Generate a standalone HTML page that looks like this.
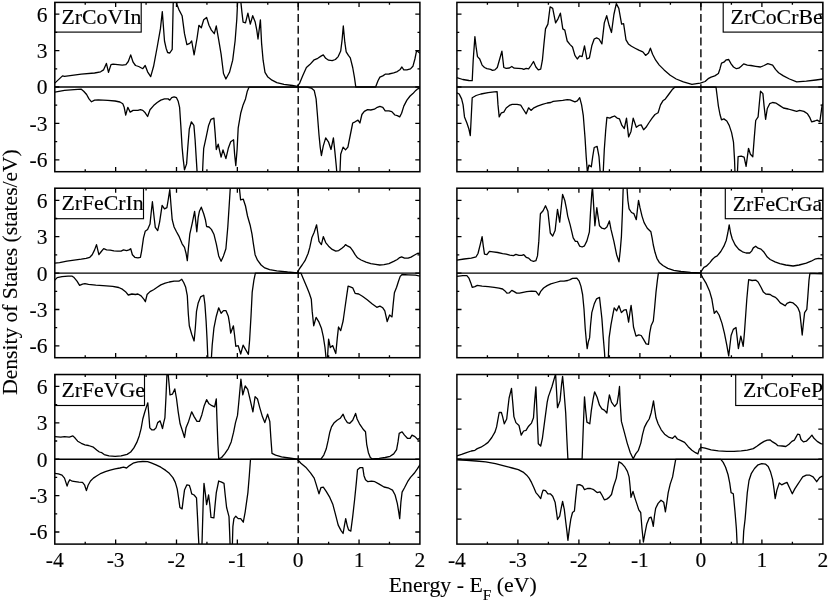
<!DOCTYPE html><html><head><meta charset="utf-8"><title>DOS</title><style>html,body{margin:0;padding:0;background:#fff}svg{display:block;will-change:transform}text{font-family:"Liberation Serif",serif;fill:#000;stroke:#000;stroke-width:0.12px}</style></head><body>
<svg width="830" height="602" viewBox="0 0 830 602">
<rect width="830" height="602" fill="#fff"/>
<clipPath id="c00"><rect x="54.8" y="2.4" width="365.09999999999997" height="169.3"/></clipPath>
<g clip-path="url(#c00)"><polyline fill="none" stroke="#000" stroke-width="1.3" stroke-linejoin="round" points="54.8,83.1 62.5,75.9 64.5,76.4 81.3,74.2 94.6,73.0 100.6,71.8 103.5,69.9 106.4,63.4 108.5,72.3 111.0,64.6 113.1,64.1 122.3,65.1 125.9,64.6 128.3,61.5 130.7,54.9 133.1,62.2 135.5,65.5 138.7,66.5 142.8,68.7 145.2,65.5 147.6,71.8 150.7,76.6 153.6,66.3 157.2,47.0 160.4,28.9 162.3,11.6 164.5,41.0 166.1,48.2 167.6,52.5 169.8,53.0 172.2,49.4 173.4,-4.8 175.8,-4.8 177.0,4.8 178.9,9.6 182.1,15.7 184.5,33.7 186.9,44.6 189.8,43.4 191.7,41.0 194.1,54.9 197.0,38.5 198.9,25.3 201.3,27.7 203.7,19.8 206.6,17.4 209.0,25.3 211.4,30.1 214.3,33.7 216.3,26.0 218.7,39.8 221.1,54.2 223.5,73.5 225.9,79.0 229.5,72.3 232.7,60.2 235.1,41.0 236.8,19.3 237.9,-4.8 239.9,-4.8 240.9,2.4 241.9,12.1 243.1,22.2 245.5,22.9 247.9,13.2 250.3,24.1 252.7,15.7 255.1,21.7 256.8,30.1 258.0,39.0 260.4,19.8 261.6,43.4 263.1,60.2 265.0,72.3 267.9,77.1 272.0,80.2 276.8,82.7 284.0,84.3 292.5,85.5 297.3,86.3 299.7,83.1 302.6,75.9 306.4,67.5 309.8,64.6 314.2,59.8 317.8,58.3 321.4,55.9 323.3,54.9 325.7,58.3 328.6,60.2 332.2,60.7 335.4,59.5 338.2,56.6 340.7,51.1 342.1,39.8 343.3,26.0 344.8,42.2 346.2,51.8 348.4,55.4 350.3,57.8 352.7,67.5 354.4,77.1 355.8,87.0 375.6,87.0 378.0,80.7 379.9,77.1 382.8,75.9 385.2,74.2 388.9,74.0 393.7,72.8 397.3,71.6 400.2,69.4 401.9,67.0 403.8,69.9 406.9,69.9 410.5,68.9 412.9,66.3 414.9,59.0 416.6,50.6 419.0,52.5 421.4,54.2"/><polyline fill="none" stroke="#000" stroke-width="1.3" stroke-linejoin="round" points="54.8,92.1 64.5,90.4 74.1,89.7 81.3,89.2 83.7,91.2 86.6,94.5 89.0,98.9 91.5,101.8 94.6,100.1 98.2,99.8 107.8,100.3 115.1,101.0 119.9,102.0 122.8,103.7 124.2,107.3 125.7,115.2 127.8,107.3 130.2,112.1 133.1,110.4 137.9,110.4 140.4,109.7 142.8,110.4 145.2,112.8 147.6,116.5 150.0,109.7 153.6,105.6 157.2,102.5 160.8,100.1 164.5,98.9 168.1,98.9 169.8,100.1 171.7,97.7 174.1,96.9 176.5,97.7 178.2,101.3 179.6,107.3 180.8,125.4 182.1,147.1 183.2,159.1 184.5,169.9 186.6,163.9 187.8,147.1 189.3,129.0 191.4,121.8 193.9,125.4 195.1,139.8 196.3,159.1 197.5,178.4 202.3,178.4 203.0,161.5 203.7,148.3 206.1,137.4 208.6,125.4 211.0,119.3 213.9,118.1 215.1,132.6 216.3,149.5 218.2,144.2 219.6,150.7 221.1,157.2 223.0,149.9 225.9,158.6 228.3,148.3 230.7,141.8 233.6,139.8 234.6,154.3 235.8,165.6 237.1,149.5 238.2,127.8 240.7,113.3 243.1,104.9 245.5,98.9 247.2,91.6 249.1,87.1 306.9,87.1 311.3,88.0 314.2,90.4 316.1,98.9 317.3,113.3 319.0,135.0 320.2,147.1 321.4,155.5 323.3,145.9 325.7,137.9 328.6,142.2 331.0,149.5 333.4,137.9 334.9,151.9 336.3,166.3 337.3,178.4 339.7,178.4 340.7,154.3 343.1,147.1 345.5,149.9 347.9,147.1 350.3,135.0 352.7,123.0 355.1,121.8 358.0,120.1 359.9,123.0 361.9,114.5 364.3,111.4 367.6,109.7 370.8,110.0 374.4,109.2 377.3,107.3 379.9,106.3 382.8,107.3 385.2,110.9 388.9,110.9 391.8,111.6 394.9,115.0 397.3,115.7 399.7,116.9 401.6,113.3 403.8,106.1 406.9,100.1 410.1,96.0 412.9,93.6 415.8,90.4 417.8,88.8 421.4,87.8"/><line x1="54.8" y1="87.00" x2="419.9" y2="87.00" stroke="#000" stroke-width="1.45"/><line x1="298.20" y1="2.4" x2="298.20" y2="171.70000000000002" stroke="#000" stroke-width="1.4" stroke-dasharray="8,3.69" stroke-dashoffset="0"/><rect x="54.8" y="2.4" width="86.4" height="29.7" fill="#fff" stroke="#000" stroke-width="1.15"/><text x="61.4" y="24.3" font-size="21.8">ZrCoVIn</text></g>
<path d="M85.22,171.70000000000002v-2.4M85.22,2.4v2.4M115.65,171.70000000000002v-4.6M115.65,2.4v4.6M146.07,171.70000000000002v-2.4M146.07,2.4v2.4M176.50,171.70000000000002v-4.6M176.50,2.4v4.6M206.93,171.70000000000002v-2.4M206.93,2.4v2.4M237.35,171.70000000000002v-4.6M237.35,2.4v4.6M267.77,171.70000000000002v-2.4M267.77,2.4v2.4M298.20,171.70000000000002v-4.6M298.20,2.4v4.6M328.62,171.70000000000002v-2.4M328.62,2.4v2.4M359.05,171.70000000000002v-4.6M359.05,2.4v4.6M389.47,171.70000000000002v-2.4M389.47,2.4v2.4M54.8,159.78h4.6M419.9,159.78h-4.6M54.8,141.59h2.4M419.9,141.59h-2.4M54.8,123.39h4.6M419.9,123.39h-4.6M54.8,105.19h2.4M419.9,105.19h-2.4M54.8,87.00h4.6M419.9,87.00h-4.6M54.8,68.81h2.4M419.9,68.81h-2.4M54.8,50.61h4.6M419.9,50.61h-4.6M54.8,32.41h2.4M419.9,32.41h-2.4M54.8,14.22h4.6M419.9,14.22h-4.6" stroke="#000" stroke-width="1.3" fill="none"/>
<rect x="54.8" y="2.4" width="365.1" height="169.3" fill="none" stroke="#000" stroke-width="1.5"/>
<text x="47.5" y="21.6" font-size="21.5" text-anchor="end">6</text>
<text x="47.5" y="58.0" font-size="21.5" text-anchor="end">3</text>
<text x="47.5" y="94.4" font-size="21.5" text-anchor="end">0</text>
<text x="47.5" y="130.8" font-size="21.5" text-anchor="end">-3</text>
<text x="47.5" y="167.2" font-size="21.5" text-anchor="end">-6</text>
<clipPath id="c01"><rect x="456.9" y="2.4" width="366.0" height="169.3"/></clipPath>
<g clip-path="url(#c01)"><polyline fill="none" stroke="#000" stroke-width="1.3" stroke-linejoin="round" points="456.8,77.6 462.8,79.5 468.9,80.5 472.2,80.7 473.2,60.2 474.9,36.6 476.1,47.0 477.5,56.6 479.7,59.0 482.1,65.1 484.5,67.5 486.9,68.7 490.6,69.4 492.5,70.4 494.9,69.9 497.3,67.5 499.7,59.0 501.9,51.1 503.8,67.5 506.2,68.4 509.4,68.0 511.8,66.5 514.2,68.2 518.3,68.4 521.9,68.7 523.8,69.4 526.2,68.4 528.6,68.9 531.0,65.5 533.5,61.5 535.9,67.0 538.3,69.9 540.7,69.2 542.4,60.2 544.0,43.4 545.5,28.9 547.9,24.1 550.1,6.8 552.7,8.4 555.6,22.9 558.0,18.8 560.4,13.2 562.8,28.9 564.8,30.1 567.2,41.0 570.1,44.6 572.5,47.0 574.9,55.4 577.3,59.0 579.7,55.9 582.1,56.6 584.5,45.8 586.9,59.0 589.4,57.8 591.8,45.8 594.2,39.0 596.6,37.8 599.0,39.0 601.9,43.9 604.3,22.9 606.7,15.7 609.1,25.3 611.5,32.5 613.9,14.5 616.3,3.6 618.8,8.4 621.6,24.1 623.6,23.6 626.0,39.8 628.4,43.9 631.5,46.3 635.1,48.2 638.8,50.1 642.8,51.8 642.9,51.8 645.6,55.4 648.5,53.0 650.4,48.2 652.6,54.2 655.7,60.2 659.3,65.1 664.1,69.9 670.2,75.2 676.2,79.0 683.4,81.9 691.9,84.3 696.7,83.6 700.3,83.1 705.1,81.5 708.7,78.3 711.1,77.1 714.8,75.9 718.4,73.5 720.0,68.7 721.5,63.1 723.9,62.2 726.3,59.8 728.7,59.5 731.1,63.9 733.5,67.0 736.4,68.7 738.8,68.2 741.2,66.3 743.7,63.9 747.3,65.1 750.9,65.5 755.7,66.3 760.5,67.0 764.1,65.5 767.8,63.6 770.2,64.3 772.6,65.1 775.5,69.4 778.6,72.8 783.4,75.9 789.5,79.0 796.7,81.9 806.3,81.2 816.0,80.0 823.2,79.0"/><polyline fill="none" stroke="#000" stroke-width="1.3" stroke-linejoin="round" points="456.8,92.8 459.2,94.0 461.6,98.9 463.1,104.9 464.5,116.9 466.9,123.0 468.9,129.0 470.3,135.5 471.3,115.7 472.2,97.7 476.1,95.5 480.9,94.0 488.1,92.6 494.2,91.9 497.1,91.6 498.0,104.9 499.2,116.9 501.4,112.8 503.8,112.1 506.2,108.0 509.4,105.4 512.2,104.4 517.1,104.4 520.7,105.1 523.1,109.0 526.2,113.8 528.6,107.8 531.0,110.4 533.9,107.8 537.5,106.1 542.4,104.4 547.2,103.0 550.8,102.5 553.2,101.3 558.0,100.8 562.8,100.3 567.2,99.6 570.1,99.8 572.5,100.8 574.9,101.8 577.3,100.8 579.7,97.7 581.6,104.9 583.3,115.7 585.0,137.4 586.2,156.7 587.4,172.4 588.9,165.1 591.3,166.8 592.7,156.7 594.2,147.5 597.1,146.3 599.0,156.7 600.4,174.8 603.1,174.8 604.3,149.5 605.7,130.2 606.9,117.4 609.8,118.1 612.2,116.9 614.6,116.0 617.1,118.1 619.5,118.9 621.9,125.4 624.3,128.5 626.5,118.1 628.6,136.9 631.0,131.4 633.2,118.1 636.3,127.3 638.8,125.4 641.2,124.9 643.6,129.7 646.0,127.3 649.1,122.5 652.1,118.1 655.0,114.5 658.1,112.8 660.5,104.9 662.9,100.8 665.4,98.9 669.0,94.0 672.6,89.2 675.0,87.1 716.0,87.1 717.2,96.5 718.4,106.1 720.0,114.5 721.5,119.8 723.9,118.9 726.8,121.0 729.2,125.4 731.6,132.6 733.5,142.2 734.5,159.1 735.2,178.4 737.2,178.4 738.1,156.7 741.2,156.2 744.1,157.2 746.1,166.3 748.5,148.3 750.4,154.3 752.8,156.7 754.3,137.4 755.7,120.5 758.1,116.9 759.3,103.7 760.5,91.2 762.9,93.6 764.1,106.1 765.6,119.3 767.3,108.5 769.7,103.7 772.6,102.5 776.2,103.2 779.8,105.6 783.4,108.0 788.2,109.0 793.1,110.4 796.7,111.4 799.6,110.4 803.9,111.4 807.5,113.8 809.9,117.7 811.6,121.8 814.8,121.0 817.2,120.1 819.8,121.8 821.0,113.3 822.2,104.9 823.7,103.2"/><line x1="456.9" y1="87.00" x2="822.9" y2="87.00" stroke="#000" stroke-width="1.45"/><line x1="700.90" y1="2.4" x2="700.90" y2="171.70000000000002" stroke="#000" stroke-width="1.4" stroke-dasharray="8,3.69" stroke-dashoffset="0"/><rect x="723.2" y="2.4" width="99.7" height="29.7" fill="#fff" stroke="#000" stroke-width="1.15"/><text x="730.6" y="24.3" font-size="21.8">ZrCoCrBe</text></g>
<path d="M487.40,171.70000000000002v-2.4M487.40,2.4v2.4M517.90,171.70000000000002v-4.6M517.90,2.4v4.6M548.40,171.70000000000002v-2.4M548.40,2.4v2.4M578.90,171.70000000000002v-4.6M578.90,2.4v4.6M609.40,171.70000000000002v-2.4M609.40,2.4v2.4M639.90,171.70000000000002v-4.6M639.90,2.4v4.6M670.40,171.70000000000002v-2.4M670.40,2.4v2.4M700.90,171.70000000000002v-4.6M700.90,2.4v4.6M731.40,171.70000000000002v-2.4M731.40,2.4v2.4M761.90,171.70000000000002v-4.6M761.90,2.4v4.6M792.40,171.70000000000002v-2.4M792.40,2.4v2.4M456.9,159.78h4.6M822.9,159.78h-4.6M456.9,141.59h2.4M822.9,141.59h-2.4M456.9,123.39h4.6M822.9,123.39h-4.6M456.9,105.19h2.4M822.9,105.19h-2.4M456.9,87.00h4.6M822.9,87.00h-4.6M456.9,68.81h2.4M822.9,68.81h-2.4M456.9,50.61h4.6M822.9,50.61h-4.6M456.9,32.41h2.4M822.9,32.41h-2.4M456.9,14.22h4.6M822.9,14.22h-4.6" stroke="#000" stroke-width="1.3" fill="none"/>
<rect x="456.9" y="2.4" width="366.0" height="169.3" fill="none" stroke="#000" stroke-width="1.5"/>
<clipPath id="c10"><rect x="54.8" y="188.2" width="365.09999999999997" height="169.5"/></clipPath>
<g clip-path="url(#c10)"><polyline fill="none" stroke="#000" stroke-width="1.3" stroke-linejoin="round" points="54.8,263.1 59.6,262.6 66.9,261.2 74.1,260.2 81.3,259.2 86.1,258.3 89.8,257.3 92.2,254.7 94.6,249.9 96.5,244.6 98.9,254.7 101.3,251.5 103.7,248.7 106.6,249.9 110.2,250.1 113.9,250.8 117.5,251.1 121.1,251.1 123.5,249.9 126.6,250.6 129.0,249.9 130.7,248.7 132.4,254.7 134.8,257.3 137.9,257.8 140.4,257.3 141.6,251.1 143.5,237.8 145.2,231.3 147.6,229.4 150.0,224.1 151.2,212.5 152.4,201.7 154.1,217.3 155.3,227.4 157.7,230.6 159.6,222.1 162.1,205.3 164.5,208.9 166.9,207.7 168.1,200.5 169.8,189.6 171.0,205.3 172.2,219.7 174.1,227.0 176.5,231.8 178.9,236.1 182.1,243.8 184.5,247.4 186.1,253.5 187.3,260.7 188.6,246.2 189.8,234.2 192.2,223.3 194.6,211.3 195.8,222.1 196.8,231.8 198.2,217.3 199.4,211.3 201.3,207.2 203.7,213.7 205.4,219.7 206.6,226.5 209.0,227.0 211.4,229.4 213.9,234.2 216.3,243.8 218.7,255.9 221.1,261.2 223.5,255.9 225.9,248.7 227.8,227.0 229.5,200.5 230.7,181.2 239.2,184.0 239.5,189.0 240.6,199.9 243.3,199.2 245.5,206.0 247.5,216.0 250.3,225.8 252.0,234.2 253.4,243.8 255.1,254.7 257.5,260.2 261.1,265.0 264.8,267.9 269.6,269.6 276.8,270.8 287.6,272.0 297.3,272.8 299.2,269.1 302.1,265.0 305.0,260.7 308.1,253.5 309.8,247.4 311.8,237.8 314.2,232.3 316.6,224.8 317.8,233.0 319.0,241.4 321.4,244.6 323.3,236.6 325.7,242.6 328.6,246.2 332.2,249.4 335.8,251.1 338.7,250.6 341.9,248.2 344.3,246.2 345.5,244.6 347.9,246.2 350.3,247.4 352.7,250.6 355.1,254.7 357.5,257.8 361.1,260.0 366.0,262.1 370.8,263.6 375.6,264.3 379.7,265.0 384.0,264.6 388.9,263.6 393.7,261.4 397.3,259.5 399.7,257.6 401.6,256.8 404.5,258.1 408.1,258.1 411.0,257.1 414.2,255.2 417.3,253.5 421.4,252.8"/><polyline fill="none" stroke="#000" stroke-width="1.3" stroke-linejoin="round" points="54.8,280.1 57.2,277.6 62.0,276.7 68.1,276.2 72.2,276.2 74.1,277.6 77.0,281.2 79.6,285.4 82.5,284.1 84.9,283.7 88.5,284.4 95.8,285.1 103.0,285.6 112.7,286.3 118.7,287.5 122.3,289.2 125.9,292.1 128.3,295.0 131.9,294.0 135.5,294.5 137.9,294.0 141.1,295.9 144.0,299.3 145.4,301.7 147.1,294.5 150.0,291.6 153.6,289.7 157.2,287.3 160.8,284.9 165.2,283.2 169.3,282.0 174.1,281.2 178.9,281.2 181.8,279.3 183.7,282.5 185.7,287.3 187.3,295.7 188.3,313.8 189.3,325.8 191.7,334.3 194.1,341.0 195.3,328.2 196.5,311.4 198.2,302.9 200.6,296.9 203.7,295.2 204.9,304.1 206.1,321.0 207.1,340.3 208.1,364.4 211.0,364.4 212.2,345.1 213.9,328.2 216.3,316.2 218.7,307.8 221.1,313.3 223.5,310.6 225.9,310.6 228.3,316.2 229.5,323.4 230.7,333.1 233.4,325.8 234.6,335.5 235.8,346.3 238.2,345.6 240.7,354.0 243.1,345.1 245.5,349.4 248.4,354.3 249.6,340.3 251.0,316.2 252.2,292.1 253.9,280.1 255.4,273.1 300.9,273.1 303.3,278.8 306.9,287.3 309.3,293.3 311.3,299.3 312.2,311.4 313.7,325.8 316.1,317.4 319.0,322.2 321.4,328.2 323.3,336.7 325.0,347.5 326.2,359.6 327.4,359.6 328.6,339.1 330.3,347.5 332.7,345.6 333.9,348.7 335.8,353.5 337.3,337.9 338.5,327.0 340.7,330.6 343.1,321.0 344.8,309.0 346.7,295.7 348.1,286.1 350.3,286.8 352.7,287.8 355.1,293.3 358.7,294.0 362.4,296.2 367.2,299.8 372.0,303.7 376.8,307.3 379.9,306.1 382.8,307.8 384.8,310.9 386.0,316.2 387.2,321.5 389.6,315.0 392.0,316.9 393.2,304.1 394.4,292.8 396.6,287.3 398.5,281.2 400.2,276.4 402.1,274.5 408.1,274.8 415.4,275.2 421.4,276.4"/><line x1="54.8" y1="273.10" x2="419.9" y2="273.10" stroke="#000" stroke-width="1.45"/><line x1="298.20" y1="188.2" x2="298.20" y2="357.7" stroke="#000" stroke-width="1.4" stroke-dasharray="8,3.69" stroke-dashoffset="0"/><rect x="54.8" y="188.2" width="88.7" height="30.5" fill="#fff" stroke="#000" stroke-width="1.15"/><text x="61.4" y="210.4" font-size="21.8">ZrFeCrIn</text></g>
<path d="M85.22,357.7v-2.4M85.22,188.2v2.4M115.65,357.7v-4.6M115.65,188.2v4.6M146.07,357.7v-2.4M146.07,188.2v2.4M176.50,357.7v-4.6M176.50,188.2v4.6M206.93,357.7v-2.4M206.93,188.2v2.4M237.35,357.7v-4.6M237.35,188.2v4.6M267.77,357.7v-2.4M267.77,188.2v2.4M298.20,357.7v-4.6M298.20,188.2v4.6M328.62,357.7v-2.4M328.62,188.2v2.4M359.05,357.7v-4.6M359.05,188.2v4.6M389.47,357.7v-2.4M389.47,188.2v2.4M54.8,345.88h4.6M419.9,345.88h-4.6M54.8,327.69h2.4M419.9,327.69h-2.4M54.8,309.49h4.6M419.9,309.49h-4.6M54.8,291.30h2.4M419.9,291.30h-2.4M54.8,273.10h4.6M419.9,273.10h-4.6M54.8,254.91h2.4M419.9,254.91h-2.4M54.8,236.71h4.6M419.9,236.71h-4.6M54.8,218.52h2.4M419.9,218.52h-2.4M54.8,200.32h4.6M419.9,200.32h-4.6" stroke="#000" stroke-width="1.3" fill="none"/>
<rect x="54.8" y="188.2" width="365.1" height="169.5" fill="none" stroke="#000" stroke-width="1.5"/>
<text x="47.5" y="207.7" font-size="21.5" text-anchor="end">6</text>
<text x="47.5" y="244.1" font-size="21.5" text-anchor="end">3</text>
<text x="47.5" y="280.5" font-size="21.5" text-anchor="end">0</text>
<text x="47.5" y="316.9" font-size="21.5" text-anchor="end">-3</text>
<text x="47.5" y="353.3" font-size="21.5" text-anchor="end">-6</text>
<clipPath id="c11"><rect x="456.9" y="188.2" width="366.0" height="169.5"/></clipPath>
<g clip-path="url(#c11)"><polyline fill="none" stroke="#000" stroke-width="1.3" stroke-linejoin="round" points="456.8,260.2 464.1,259.0 471.3,258.1 476.1,256.8 478.0,253.5 480.4,243.8 482.1,236.6 483.3,246.2 484.5,254.2 486.9,254.7 489.4,251.3 493.0,251.8 497.8,252.5 502.6,253.7 506.2,254.2 509.8,255.2 513.5,255.6 515.9,254.4 519.0,255.4 521.9,255.4 523.8,254.7 526.2,257.3 528.6,258.1 531.0,260.5 533.5,261.4 535.9,260.7 537.5,255.9 538.8,241.4 539.7,224.6 540.4,213.7 543.1,210.8 545.5,205.8 547.9,211.3 549.1,222.1 550.3,233.0 552.7,236.1 555.1,230.6 556.3,219.7 557.5,209.4 559.7,222.1 561.2,207.7 562.6,194.4 564.8,200.5 566.5,208.9 567.7,216.1 570.1,224.6 571.8,231.8 573.2,237.8 575.4,241.4 577.3,241.4 579.7,246.2 582.1,247.0 584.5,245.8 586.9,240.9 589.4,231.8 590.5,212.5 591.8,193.2 592.5,187.2 593.2,198.1 594.2,214.9 594.9,225.8 595.9,216.1 596.8,207.7 598.0,216.1 599.5,225.8 601.9,228.2 604.5,228.9 606.9,227.0 609.4,220.9 611.0,229.4 613.9,241.4 616.6,254.7 619.0,261.9 620.2,251.1 621.4,236.6 622.4,212.5 623.1,190.8 623.6,181.2 626.7,181.2 627.2,190.8 627.9,200.5 629.1,208.9 631.5,212.5 633.9,213.7 636.3,219.7 637.5,208.9 638.5,200.5 638.6,200.5 640.0,207.7 642.0,216.1 644.1,222.6 647.3,228.2 650.9,231.8 652.1,237.8 653.3,245.0 655.0,252.3 656.9,258.3 659.3,262.4 662.9,265.5 667.8,268.4 673.8,270.3 681.0,271.5 690.6,272.3 700.3,272.8 702.2,269.9 703.9,267.4 706.3,266.2 709.9,262.6 712.3,259.5 714.8,257.1 717.2,255.9 720.8,251.5 723.9,246.2 726.3,240.2 727.8,233.0 729.2,224.8 730.6,233.0 732.3,239.0 735.2,245.0 738.8,249.4 742.5,251.8 746.1,253.0 749.7,253.0 751.6,251.1 753.3,247.9 755.7,246.2 758.1,248.2 761.0,249.1 764.1,252.3 767.3,257.1 770.2,259.5 775.0,261.9 779.8,263.6 785.8,265.0 793.1,266.0 799.1,265.0 806.3,263.1 811.1,261.2 814.8,259.2 818.4,258.3 823.7,259.0"/><polyline fill="none" stroke="#000" stroke-width="1.3" stroke-linejoin="round" points="456.8,276.4 462.8,275.7 466.9,275.7 468.9,278.1 470.8,282.9 472.2,287.3 474.9,286.6 477.3,285.4 482.1,286.1 488.1,286.6 494.2,287.3 499.0,288.2 502.6,289.0 505.0,290.9 506.9,293.1 509.4,292.8 511.8,290.4 514.2,291.6 516.6,293.1 519.5,293.1 523.1,292.3 526.7,291.6 531.5,291.1 535.9,291.4 538.8,295.2 540.7,291.4 543.6,288.0 547.2,285.6 550.8,283.9 555.6,282.5 560.4,281.2 564.0,281.2 567.7,280.5 570.1,279.6 572.5,278.4 576.8,278.1 579.2,281.2 580.9,286.1 582.6,294.5 584.0,309.0 585.2,328.2 586.5,342.7 587.2,348.7 588.4,341.5 589.6,337.9 590.5,325.8 591.8,312.6 594.2,304.1 596.6,298.8 599.5,297.4 600.7,307.8 601.9,318.6 603.3,337.9 604.5,352.3 605.2,364.4 608.1,364.4 609.1,337.9 611.0,324.6 613.0,313.8 614.2,307.8 616.6,310.9 619.0,305.8 621.4,312.6 623.8,310.2 626.2,309.7 627.4,315.0 628.6,322.2 630.1,311.4 631.1,305.4 632.3,315.0 633.5,327.0 636.0,336.2 638.8,334.8 641.2,335.5 643.7,339.6 646.1,343.9 648.5,344.4 649.7,333.1 651.1,325.8 653.3,321.0 654.5,309.0 656.0,292.1 657.4,280.1 658.4,273.1 700.3,273.1 702.7,277.6 706.3,283.7 709.5,290.9 711.9,299.3 713.3,307.8 714.3,313.3 716.4,310.9 719.1,315.0 722.0,323.4 724.4,333.1 726.8,345.1 728.7,355.9 729.7,347.5 731.1,335.5 733.3,329.4 736.0,327.5 737.2,337.9 738.4,348.7 740.8,336.2 743.2,346.3 744.4,333.1 745.6,316.2 746.8,299.3 748.0,286.1 748.7,279.6 752.1,280.5 755.7,280.1 758.1,282.0 761.0,287.3 763.4,292.1 765.8,294.0 770.2,294.5 772.6,296.2 775.5,297.4 777.9,299.8 780.3,302.9 783.4,304.6 785.1,305.8 787.0,303.4 789.9,302.2 793.1,302.9 796.0,305.4 797.9,307.8 799.8,312.6 801.0,323.4 802.2,335.0 803.4,323.4 804.6,312.6 806.8,309.4 807.8,296.9 809.0,280.1 809.9,273.3 814.8,273.5 823.7,274.0"/><line x1="456.9" y1="273.10" x2="822.9" y2="273.10" stroke="#000" stroke-width="1.45"/><line x1="700.90" y1="188.2" x2="700.90" y2="357.7" stroke="#000" stroke-width="1.4" stroke-dasharray="8,3.69" stroke-dashoffset="0"/><rect x="725.3" y="188.2" width="97.6" height="30.5" fill="#fff" stroke="#000" stroke-width="1.15"/><text x="732.7" y="210.6" font-size="21.8">ZrFeCrGa</text></g>
<path d="M487.40,357.7v-2.4M487.40,188.2v2.4M517.90,357.7v-4.6M517.90,188.2v4.6M548.40,357.7v-2.4M548.40,188.2v2.4M578.90,357.7v-4.6M578.90,188.2v4.6M609.40,357.7v-2.4M609.40,188.2v2.4M639.90,357.7v-4.6M639.90,188.2v4.6M670.40,357.7v-2.4M670.40,188.2v2.4M700.90,357.7v-4.6M700.90,188.2v4.6M731.40,357.7v-2.4M731.40,188.2v2.4M761.90,357.7v-4.6M761.90,188.2v4.6M792.40,357.7v-2.4M792.40,188.2v2.4M456.9,345.88h4.6M822.9,345.88h-4.6M456.9,327.69h2.4M822.9,327.69h-2.4M456.9,309.49h4.6M822.9,309.49h-4.6M456.9,291.30h2.4M822.9,291.30h-2.4M456.9,273.10h4.6M822.9,273.10h-4.6M456.9,254.91h2.4M822.9,254.91h-2.4M456.9,236.71h4.6M822.9,236.71h-4.6M456.9,218.52h2.4M822.9,218.52h-2.4M456.9,200.32h4.6M822.9,200.32h-4.6" stroke="#000" stroke-width="1.3" fill="none"/>
<rect x="456.9" y="188.2" width="366.0" height="169.5" fill="none" stroke="#000" stroke-width="1.5"/>
<clipPath id="c20"><rect x="54.8" y="374.5" width="365.09999999999997" height="169.6"/></clipPath>
<g clip-path="url(#c20)"><polyline fill="none" stroke="#000" stroke-width="1.3" stroke-linejoin="round" points="54.8,436.6 60.8,437.1 64.5,436.6 69.3,437.1 72.9,435.9 75.3,438.3 77.7,441.2 81.3,443.3 84.9,444.8 88.5,445.5 93.4,447.2 97.0,450.3 99.4,452.0 101.8,452.7 104.2,454.6 109.0,455.9 115.1,456.3 121.1,455.9 127.1,454.4 130.7,452.0 133.9,447.9 136.8,442.4 139.2,435.9 141.1,428.6 142.8,419.0 144.5,413.0 146.4,406.9 147.8,402.8 148.8,414.2 149.8,427.9 151.7,429.8 154.1,429.8 156.0,427.9 157.7,422.6 160.1,420.9 161.3,424.5 162.5,428.6 163.7,422.6 164.9,417.8 165.9,398.5 166.9,375.6 167.3,370.8 168.1,373.2 169.3,386.5 170.0,394.9 172.4,394.2 174.8,388.9 176.5,398.5 178.2,411.8 180.1,423.8 182.5,431.0 184.5,437.5 186.1,427.4 188.6,421.4 190.5,415.4 191.7,411.8 194.1,416.6 197.0,421.4 199.4,421.4 201.8,414.9 204.2,405.7 206.6,399.7 209.0,403.8 211.9,405.7 214.6,406.9 216.3,399.0 217.0,420.2 217.9,444.3 218.7,458.8 221.6,457.5 224.7,453.9 228.3,448.6 231.2,441.9 233.6,432.2 235.5,422.6 237.5,415.4 238.7,403.3 239.9,390.1 240.9,379.2 242.8,394.9 245.2,386.0 247.7,389.4 249.6,397.3 251.5,405.7 252.9,411.8 255.1,396.6 257.5,399.0 259.9,408.1 262.4,416.6 264.8,422.6 267.6,414.2 269.8,421.4 270.8,437.1 272.0,453.4 275.6,455.1 281.6,456.8 288.9,458.0 297.3,459.2 320.9,459.2 323.8,455.1 326.2,449.1 328.1,440.7 329.8,432.2 331.5,426.9 333.9,423.1 337.1,420.2 340.2,418.3 343.1,414.2 345.0,419.0 347.4,422.6 349.8,423.3 352.7,420.2 355.6,413.4 357.1,419.0 359.5,423.8 361.9,427.4 363.6,429.8 365.5,431.8 366.7,444.3 368.4,452.7 370.3,457.5 372.0,458.8 379.2,458.3 385.2,457.5 390.1,456.3 393.7,453.9 396.6,449.6 398.0,441.9 399.2,433.4 402.1,431.8 404.5,435.1 407.4,438.3 410.1,438.3 412.0,435.1 414.9,436.6 417.8,439.5 421.4,436.6"/><polyline fill="none" stroke="#000" stroke-width="1.3" stroke-linejoin="round" points="54.8,473.3 58.4,473.8 62.0,475.2 64.5,478.1 65.9,482.4 67.1,486.1 68.3,482.4 69.8,479.8 72.2,481.2 75.3,481.7 78.9,482.2 82.5,482.4 84.5,484.8 86.4,490.6 88.1,485.3 90.5,481.0 93.4,478.1 97.0,475.7 101.1,473.3 105.4,471.6 110.2,470.1 115.1,468.9 119.9,468.0 123.5,467.2 126.6,468.0 129.5,465.6 133.1,463.2 137.9,461.9 142.8,461.5 147.6,461.7 151.2,462.9 156.0,464.8 160.8,467.2 165.7,470.4 169.3,473.3 172.9,477.6 175.3,482.4 177.2,488.9 178.7,498.6 179.9,507.5 182.1,508.9 183.2,499.8 184.5,490.1 186.9,484.8 189.3,485.3 190.5,488.9 191.7,493.8 194.1,495.0 196.5,497.9 197.5,516.6 198.4,535.9 199.2,550.4 201.8,550.4 202.5,526.3 203.2,502.2 204.0,483.4 205.4,493.8 206.6,504.6 208.6,495.0 209.8,504.6 211.0,517.4 213.9,517.9 215.1,504.6 216.3,492.6 218.7,481.0 221.6,482.2 224.0,483.4 225.2,495.0 226.6,507.5 229.0,516.6 229.6,531.1 230.3,550.4 232.2,550.4 232.9,526.3 233.9,518.6 235.8,516.2 238.2,518.6 240.7,518.6 243.3,522.2 245.2,511.8 247.9,492.6 249.3,475.7 250.5,459.3 297.3,459.3 300.9,463.2 305.7,467.2 310.5,472.8 314.2,478.1 316.1,484.1 317.5,488.9 319.0,493.8 320.9,487.7 323.3,487.2 326.2,491.4 329.8,497.4 332.9,504.6 335.4,514.2 338.2,525.1 341.1,530.6 343.1,533.5 344.5,525.1 345.7,518.6 347.4,526.3 348.6,529.9 350.8,531.1 352.7,516.6 354.6,499.8 356.3,482.9 357.5,469.7 359.9,467.7 362.8,467.7 364.0,475.7 365.5,479.8 367.9,481.7 371.5,481.2 374.9,481.7 379.2,484.1 384.0,487.0 388.9,488.2 392.5,490.1 395.1,495.0 397.3,503.4 398.7,511.8 399.7,518.6 400.9,502.2 402.1,492.1 404.5,487.7 407.6,481.7 410.5,477.4 414.2,473.3 417.3,468.9 420.7,463.6"/><line x1="54.8" y1="459.20" x2="419.9" y2="459.20" stroke="#000" stroke-width="1.45"/><line x1="298.20" y1="374.5" x2="298.20" y2="544.1" stroke="#000" stroke-width="1.4" stroke-dasharray="8,3.69" stroke-dashoffset="1.2"/><rect x="54.8" y="374.5" width="89.7" height="31.0" fill="#fff" stroke="#000" stroke-width="1.15"/><text x="61.4" y="396.9" font-size="21.8">ZrFeVGe</text></g>
<path d="M85.22,544.1v-2.4M85.22,374.5v2.4M115.65,544.1v-4.6M115.65,374.5v4.6M146.07,544.1v-2.4M146.07,374.5v2.4M176.50,544.1v-4.6M176.50,374.5v4.6M206.93,544.1v-2.4M206.93,374.5v2.4M237.35,544.1v-4.6M237.35,374.5v4.6M267.77,544.1v-2.4M267.77,374.5v2.4M298.20,544.1v-4.6M298.20,374.5v4.6M328.62,544.1v-2.4M328.62,374.5v2.4M359.05,544.1v-4.6M359.05,374.5v4.6M389.47,544.1v-2.4M389.47,374.5v2.4M54.8,531.98h4.6M419.9,531.98h-4.6M54.8,513.78h2.4M419.9,513.78h-2.4M54.8,495.59h4.6M419.9,495.59h-4.6M54.8,477.39h2.4M419.9,477.39h-2.4M54.8,459.20h4.6M419.9,459.20h-4.6M54.8,441.00h2.4M419.9,441.00h-2.4M54.8,422.81h4.6M419.9,422.81h-4.6M54.8,404.62h2.4M419.9,404.62h-2.4M54.8,386.42h4.6M419.9,386.42h-4.6" stroke="#000" stroke-width="1.3" fill="none"/>
<rect x="54.8" y="374.5" width="365.1" height="169.6" fill="none" stroke="#000" stroke-width="1.5"/>
<text x="47.5" y="393.8" font-size="21.5" text-anchor="end">6</text>
<text x="47.5" y="430.2" font-size="21.5" text-anchor="end">3</text>
<text x="47.5" y="466.6" font-size="21.5" text-anchor="end">0</text>
<text x="47.5" y="503.0" font-size="21.5" text-anchor="end">-3</text>
<text x="47.5" y="539.4" font-size="21.5" text-anchor="end">-6</text>
<text x="54.8" y="566.5" font-size="21.5" text-anchor="middle">-4</text>
<text x="115.6" y="566.5" font-size="21.5" text-anchor="middle">-3</text>
<text x="176.5" y="566.5" font-size="21.5" text-anchor="middle">-2</text>
<text x="237.3" y="566.5" font-size="21.5" text-anchor="middle">-1</text>
<text x="298.2" y="566.5" font-size="21.5" text-anchor="middle">0</text>
<text x="359.1" y="566.5" font-size="21.5" text-anchor="middle">1</text>
<text x="419.9" y="566.5" font-size="21.5" text-anchor="middle">2</text>
<clipPath id="c21"><rect x="456.9" y="374.5" width="366.0" height="169.6"/></clipPath>
<g clip-path="url(#c21)"><polyline fill="none" stroke="#000" stroke-width="1.3" stroke-linejoin="round" points="456.8,455.9 461.6,454.4 466.5,452.7 471.3,451.0 474.9,450.3 477.3,448.6 480.9,447.2 484.5,445.0 488.1,442.4 491.8,437.5 494.9,432.2 496.6,426.9 497.8,420.2 499.2,412.5 501.4,412.5 502.6,416.6 504.3,423.8 506.7,419.0 507.9,408.1 509.1,398.0 511.5,388.4 512.7,402.1 513.9,416.6 515.9,422.6 519.0,425.5 521.2,435.1 523.6,431.0 526.0,430.3 528.6,426.2 531.5,423.1 533.5,417.8 534.6,402.1 535.9,386.9 537.1,415.4 538.3,443.8 540.7,446.0 542.4,438.3 544.8,420.2 547.2,402.1 548.4,396.6 552.0,386.5 555.6,373.9 556.3,386.5 557.5,407.7 560.0,400.9 561.6,384.1 562.6,376.3 564.0,391.3 565.7,413.0 566.9,439.5 567.9,459.2 582.1,459.2 583.1,432.2 584.5,396.8 585.7,410.6 586.9,422.1 589.8,423.8 591.3,410.6 593.0,399.7 594.6,391.8 597.1,397.3 599.5,405.2 601.9,408.9 604.3,410.1 606.9,413.0 608.1,403.3 609.4,394.9 611.5,402.1 614.6,406.5 617.1,403.3 618.5,394.9 619.5,386.5 620.2,403.3 621.4,421.4 624.3,432.2 627.2,443.1 630.3,452.7 633.2,458.8 635.7,453.9 638.4,450.3 640.8,443.1 642.5,434.6 644.4,427.4 646.8,422.6 649.2,419.0 651.1,413.0 652.6,405.7 653.5,400.9 654.5,408.1 656.0,417.8 658.1,423.8 661.2,429.8 664.6,434.2 668.5,437.1 672.6,438.3 675.0,435.9 677.4,439.0 681.0,440.7 684.6,442.4 688.2,446.7 691.9,450.3 695.5,452.7 697.9,453.9 699.3,449.1 701.0,447.4 705.1,448.1 711.1,449.8 718.4,450.8 726.8,451.3 734.0,451.3 741.2,450.8 747.3,450.1 753.3,448.6 756.9,446.2 760.5,443.6 764.1,441.4 767.3,440.2 770.2,439.9 772.6,441.9 775.5,443.6 777.9,445.7 782.2,446.0 785.8,446.5 789.0,444.3 791.9,441.4 794.3,440.2 796.0,437.1 797.6,434.2 799.6,434.6 801.0,439.5 803.4,441.9 806.3,441.2 809.2,438.3 811.9,435.1 814.0,438.3 817.2,441.4 820.8,443.6 824.4,444.5"/><polyline fill="none" stroke="#000" stroke-width="1.3" stroke-linejoin="round" points="456.8,459.8 466.5,460.3 476.1,461.0 485.7,461.9 495.4,463.6 505.0,466.1 512.2,468.0 518.3,469.7 523.1,472.1 526.7,475.2 529.1,478.1 531.5,482.4 533.9,487.7 535.9,492.6 538.3,495.4 540.7,498.6 541.9,493.8 543.1,490.1 545.5,490.6 547.9,493.8 550.3,493.8 552.7,496.2 555.1,502.2 556.3,510.6 557.5,519.5 559.7,516.2 561.2,508.2 562.6,501.5 564.3,509.4 565.7,521.5 566.9,531.1 567.9,540.3 569.4,528.7 570.8,519.1 572.5,512.5 574.4,511.1 575.6,498.6 577.1,484.8 579.7,484.6 582.6,486.1 584.5,489.7 587.4,488.5 590.5,488.5 593.7,489.7 597.1,492.6 600.0,491.8 601.9,495.0 604.3,499.8 606.7,499.1 609.1,497.4 611.5,494.5 613.5,486.5 616.3,478.1 617.8,468.5 619.0,461.7 621.9,463.6 625.0,467.2 627.4,471.4 629.1,476.9 630.1,486.5 631.0,497.4 633.0,491.4 635.1,498.6 637.1,504.6 638.8,509.9 640.7,512.5 642.0,528.7 643.4,542.0 644.9,533.5 646.8,523.9 649.2,517.9 651.1,517.1 652.3,521.5 653.3,526.3 654.5,515.5 655.7,508.2 658.1,503.4 661.0,500.3 663.7,502.2 665.4,511.8 666.5,504.6 668.2,492.6 670.2,484.1 672.6,476.9 674.3,467.2 675.7,459.3 720.8,459.3 723.2,462.4 725.6,467.2 728.0,474.5 729.7,482.9 731.1,492.6 733.3,493.8 735.0,511.8 736.4,528.7 737.4,550.4 742.7,550.4 743.7,531.1 745.1,519.1 746.1,507.0 747.3,492.6 749.0,480.5 751.4,473.3 754.5,468.5 758.1,464.8 761.7,463.6 765.4,464.1 768.2,466.5 770.6,472.1 772.6,479.3 774.0,488.9 775.2,498.6 776.9,490.1 779.3,482.9 781.7,484.8 784.6,483.4 787.0,482.4 789.5,487.7 792.3,493.8 794.8,488.9 797.9,484.1 800.3,480.5 802.7,476.9 806.3,475.2 809.9,475.2 813.1,476.9 816.7,481.7 819.6,477.6 822.0,476.2 824.4,476.9"/><line x1="456.9" y1="459.20" x2="822.9" y2="459.20" stroke="#000" stroke-width="1.45"/><line x1="700.90" y1="374.5" x2="700.90" y2="544.1" stroke="#000" stroke-width="1.4" stroke-dasharray="8,3.69" stroke-dashoffset="1.2"/><rect x="735.7" y="374.5" width="87.2" height="31.0" fill="#fff" stroke="#000" stroke-width="1.15"/><text x="743.1" y="397.4" font-size="21.8">ZrCoFeP</text></g>
<path d="M487.40,544.1v-2.4M487.40,374.5v2.4M517.90,544.1v-4.6M517.90,374.5v4.6M548.40,544.1v-2.4M548.40,374.5v2.4M578.90,544.1v-4.6M578.90,374.5v4.6M609.40,544.1v-2.4M609.40,374.5v2.4M639.90,544.1v-4.6M639.90,374.5v4.6M670.40,544.1v-2.4M670.40,374.5v2.4M700.90,544.1v-4.6M700.90,374.5v4.6M731.40,544.1v-2.4M731.40,374.5v2.4M761.90,544.1v-4.6M761.90,374.5v4.6M792.40,544.1v-2.4M792.40,374.5v2.4M456.9,519.20h4.6M822.9,519.20h-4.6M456.9,489.20h4.6M822.9,489.20h-4.6M456.9,459.20h4.6M822.9,459.20h-4.6M456.9,429.20h4.6M822.9,429.20h-4.6M456.9,399.20h4.6M822.9,399.20h-4.6" stroke="#000" stroke-width="1.3" fill="none"/>
<rect x="456.9" y="374.5" width="366.0" height="169.6" fill="none" stroke="#000" stroke-width="1.5"/>
<text x="456.9" y="566.5" font-size="21.5" text-anchor="middle">-4</text>
<text x="517.9" y="566.5" font-size="21.5" text-anchor="middle">-3</text>
<text x="578.9" y="566.5" font-size="21.5" text-anchor="middle">-2</text>
<text x="639.9" y="566.5" font-size="21.5" text-anchor="middle">-1</text>
<text x="700.9" y="566.5" font-size="21.5" text-anchor="middle">0</text>
<text x="761.9" y="566.5" font-size="21.5" text-anchor="middle">1</text>
<text x="822.9" y="566.5" font-size="21.5" text-anchor="middle">2</text>
<text transform="translate(17.3,272) rotate(-90)" font-size="21.5" text-anchor="middle">Density of States (states/eV)</text>
<text x="388.7" y="591.8" font-size="21.8">Energy - E<tspan font-size="15.5" dy="8.6">F</tspan><tspan dy="-8.6"> (eV)</tspan></text>
</svg></body></html>
